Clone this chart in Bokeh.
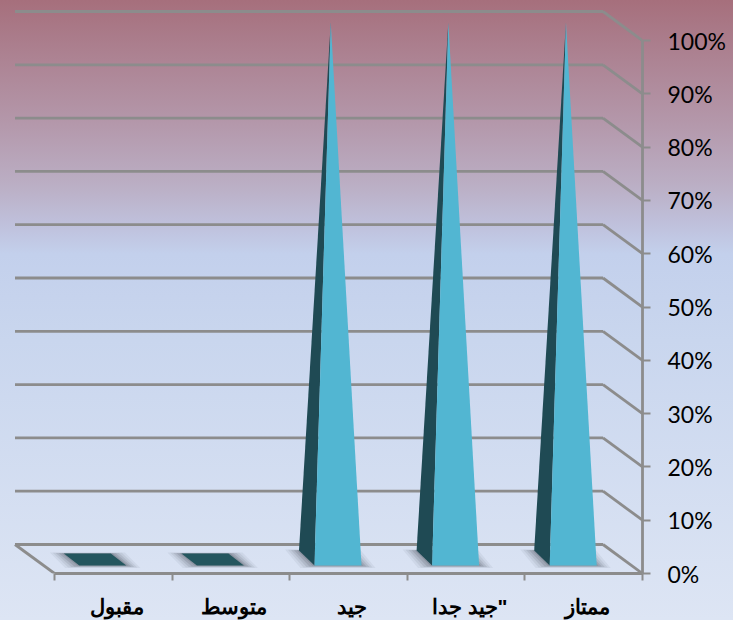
from bokeh.plotting import figure
from bokeh.models import LinearAxis, FixedTicker, Range1d
from bokeh.embed import file_html
from bokeh.resources import INLINE

categories = ["مقبول", "متوسط", "جيد", "جيد جدا\"", "ممتاز"]
values = [0, 0, 100, 100, 100]
y_ticks = [0, 10, 20, 30, 40, 50, 60, 70, 80, 90, 100]

# pixel scale of the front plane
UX = 117.6   # px per category
UY = 5.33    # px per percent
DX = -39.5 / UX   # depth of the 3D box
DY = 29 / UY
n = len(categories)

W, H = 733, 620
p = figure(width=W, height=H, output_backend="svg", toolbar_location=None,
           x_axis_type=None, y_axis_type=None,
           x_range=Range1d(-54 / UX, n), y_range=Range1d(0, 573 / UY),
           min_border_left=0, min_border_top=0, min_border_right=91, min_border_bottom=47)
p.grid.visible = False
p.outline_line_color = None
p.background_fill_alpha = 0
p.border_fill_alpha = 0
p.styles = {"background": "linear-gradient(to bottom, #a66f7c 0%, #ad8494 10%, #b498ab 20%, #bbafc5 30%, #bfc0db 36%, #c3d0ec 41%, #c9d6ee 55%, #dde5f4 100%)"}

GRID = "#8c8c8c"
for t in y_ticks:
    p.line([0 + DX, n + DX], [t + DY, t + DY], line_color=GRID, line_width=2.8)
    p.line([n + DX, n], [t + DY, t], line_color=GRID, line_width=2.8)
p.line([DX, 0], [DY, 0], line_color=GRID, line_width=2.8)

# bar geometry
OFF = -10.5 / UX     # centre of the front edge relative to the category centre
BW = 47 / UX         # base width
BX = -15.5 / UX      # base depth
BY = 15 / UY
Y0 = 8 / UY          # height of the front edge above the floor line
SCALE = 1.005
DARK = "#1f4a54"
FLAT = "#24565f"
LIGHT = "#52b6d2"

for i, v in enumerate(values):
    c = i + 0.5 + OFF
    fl, fr = c - BW / 2, c + BW / 2
    bl, br = fl + BX, fr + BX
    yb = Y0 + BY if v > 0 else Y0 + 12 / UY
    # soft shadow
    for g, a in [(14, 0.08), (11, 0.10), (8, 0.14), (5, 0.18), (2, 0.22)]:
        e = g / UX
        f = g * 0.18 / UY
        p.patch([bl - e, br + e, fr + e, fl - e],
                [yb + f * 0.4, yb + f * 0.4, Y0 - f, Y0 - f],
                fill_color="#4e5560", fill_alpha=a, line_alpha=0)
    if v > 0:
        ax = (fl + br) / 2 + 0.5 / UX
        ay = v * SCALE + Y0 + BY / 2
        p.patch([bl, fl, ax], [yb, Y0, ay], fill_color=DARK, line_alpha=0)
        p.patch([fl, fr, ax], [Y0, Y0, ay], fill_color=LIGHT, line_alpha=0)
    else:
        p.patch([bl, br, fr, fl], [yb, yb, Y0, Y0], fill_color=FLAT, line_alpha=0)

# category axis: labels at the centres, tick marks at the boundaries
xa = LinearAxis(ticker=FixedTicker(ticks=[i + 0.53 for i in range(n)], minor_ticks=list(range(n + 1))),
                bounds=(0, n))
xa.major_label_overrides = {i + 0.53: c for i, c in enumerate(categories)}
xa.axis_line_color = GRID
xa.axis_line_width = 2.8
xa.major_tick_in = 0
xa.major_tick_out = 0
xa.minor_tick_in = 0
xa.minor_tick_out = 7
xa.minor_tick_line_color = GRID
xa.minor_tick_line_width = 2
xa.major_label_standoff = 14
xa.major_label_text_font = "Liberation Sans"
xa.major_label_text_font_style = "bold"
xa.major_label_text_font_size = "21px"
xa.major_label_text_color = "#000000"
p.add_layout(xa, "below")

ya = LinearAxis(ticker=FixedTicker(ticks=y_ticks), bounds=(0, 100))
ya.major_label_overrides = {t: f"{t}%" for t in y_ticks}
ya.axis_line_color = GRID
ya.axis_line_width = 2.8
ya.major_tick_in = 0
ya.major_tick_out = 8
ya.major_tick_line_color = GRID
ya.major_tick_line_width = 2
ya.minor_tick_line_color = None
ya.major_label_standoff = 17
ya.major_label_text_font = "Lato"
ya.major_label_text_font_size = "23px"
ya.major_label_text_color = "#000000"
p.add_layout(ya, "right")

open("out.html", "w").write(file_html(p, INLINE))
